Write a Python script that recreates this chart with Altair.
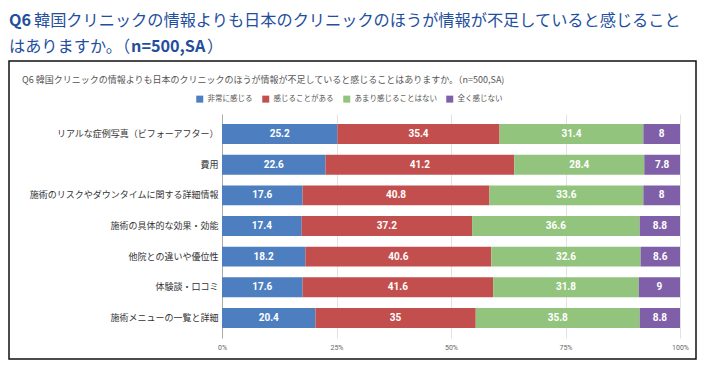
import altair as alt
import pandas as pd

categories = [
    "リアルな症例写真（ビフォーアフター）",
    "費用",
    "施術のリスクやダウンタイムに関する詳細情報",
    "施術の具体的な効果・効能",
    "他院との違いや優位性",
    "体験談・口コミ",
    "施術メニューの一覧と詳細",
]
responses = ["非常に感じる", "感じることがある", "あまり感じることはない", "全く感じない"]
colors = ["#4D7EBF", "#C24F4D", "#93C47D", "#7E5FA8"]

very = [25.2, 22.6, 17.6, 17.4, 18.2, 17.6, 20.4]
some = [35.4, 41.2, 40.8, 37.2, 40.6, 41.6, 35]
rarely = [31.4, 28.4, 33.6, 36.6, 32.6, 31.8, 35.8]
never = [8, 7.8, 8, 8.8, 8.6, 9, 8.8]
x_ticks = [0, 25, 50, 75, 100]

outer_title_q = "Q6"
outer_title_1 = "韓国クリニックの情報よりも日本のクリニックのほうが情報が不足していると感じること"
outer_title_2a = "はありますか。（"
outer_title_2b = "n=500,SA"
outer_title_2c = "）"
inner_title = "Q6 韓国クリニックの情報よりも日本のクリニックのほうが情報が不足していると感じることはありますか。（n=500,SA)"

series = [very, some, rarely, never]
rows = []
for ci, cat in enumerate(categories):
    for ri, resp in enumerate(responses):
        v = series[ri][ci]
        rows.append({"category": cat, "response": resp, "order": ri,
                     "value": v, "label": f"{v:g}"})
df = pd.DataFrame(rows)

JP = "Noto Sans CJK JP"
W, H = 458, 224
PL, PT = 214, 106
TOTAL_W, TOTAL_H = 689, 353
PR = TOTAL_W - PL - W
PB = TOTAL_H - PT - H

base = alt.Chart(df).transform_stack(
    stack="value", groupby=["category"], as_=["v0", "v1"],
    sort=[alt.SortField("order", order="ascending")]
).transform_calculate(mid="(datum.v0 + datum.v1) / 2")

yenc = alt.Y("category:N", sort=categories,
             scale=alt.Scale(paddingInner=0.35, paddingOuter=0.33),
             axis=alt.Axis(title=None, labelFont=JP, labelFontSize=9,
                           labelColor="#333333", labelPadding=4, ticks=False,
                           domain=True, domainColor="#aaaaaa", domainWidth=1,
                           labelLimit=400))

xscale = alt.Scale(domain=[0, 100], nice=False)

bars = base.mark_bar().encode(
    x=alt.X("v0:Q", scale=xscale,
            axis=alt.Axis(values=x_ticks, labelExpr="datum.value + '%'",
                          title=None, grid=True, gridColor="#e2e2e2",
                          domain=False, ticks=False, labelFontSize=7,
                          labelColor="#666666", labelPadding=5,
                          labelFlush=False, labelFont="Roboto")),
    x2="v1:Q",
    y=yenc,
    color=alt.Color("response:N",
                    scale=alt.Scale(domain=responses, range=colors),
                    legend=alt.Legend(orient="none", legendX=-26, legendY=-19,
                                      direction="horizontal", title=None,
                                      symbolType="square", symbolSize=49,
                                      symbolStrokeWidth=0, symbolOpacity=1,
                                      labelFontSize=7.5, labelFont=JP,
                                      labelColor="#555555", columnPadding=9,
                                      labelOffset=4, padding=0)),
    order=alt.Order("order:Q"),
)

labels = base.mark_text(color="white", fontWeight="bold", fontSize=10,
                        font="Roboto").encode(
    x=alt.X("mid:Q", scale=xscale),
    y=alt.Y("category:N", sort=categories),
    text="label:N",
)

one = pd.DataFrame({"k": [0]})

frame = alt.Chart(one).mark_rect(fillOpacity=0, stroke="#111111",
                                 strokeWidth=1.5).encode(
    x=alt.value(1 - PL), x2=alt.value(TOTAL_W - 1 - PL),
    y=alt.value(53 - PT), y2=alt.value(TOTAL_H - 2 - PT),
)

blue = "#1F4F9E"
def txt(s, x, y, size, color, weight="normal"):
    return alt.Chart(one).mark_text(text=s, align="left", baseline="middle",
                                    font=JP, fontSize=size, color=color,
                                    fontWeight=weight).encode(
        x=alt.value(x - PL), y=alt.value(y - PT))

FS = 16.2
t_q = txt(outer_title_q, 1, 13, FS, blue, "bold")
t_1 = txt(outer_title_1, 26, 13, FS, blue)
t_2a = txt(outer_title_2a, 1, 39, FS, blue)
t_2b = txt(outer_title_2b, 123, 39, FS, blue, "bold")
t_2c = txt(outer_title_2c, 199, 39, FS, blue)
t_in = txt(inner_title, 14, 72, 9, "#555555")

chart = alt.layer(frame, bars, labels, t_q, t_1, t_2a, t_2b, t_2c, t_in).properties(
    width=W, height=H,
    padding={"left": PL, "top": PT, "right": PR, "bottom": PB},
    autosize=alt.AutoSizeParams(type="none"),
).configure_view(stroke=None)

chart.save("out.html", embed_options={"renderer": "svg", "actions": False})
